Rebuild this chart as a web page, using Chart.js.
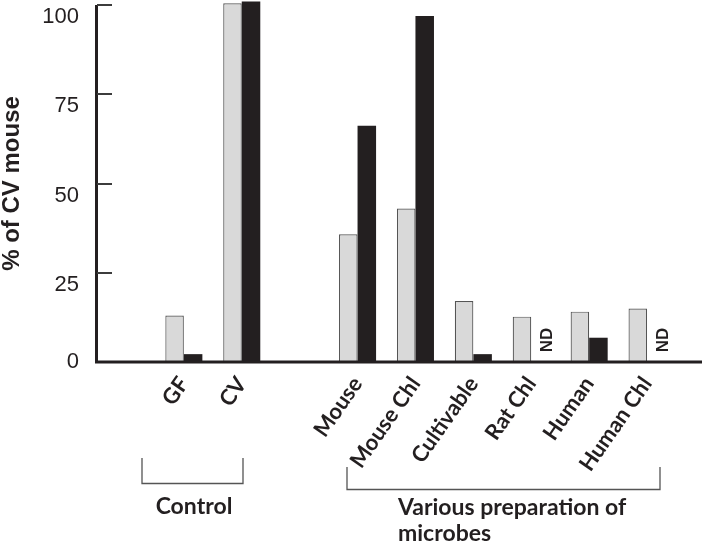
<!DOCTYPE html>
<html>
<head>
<meta charset="utf-8">
<title>% of CV mouse</title>
<script src="https://cdn.jsdelivr.net/npm/chart.js@4.4.1/dist/chart.umd.min.js"></script>
<style>
body{margin:0;background:#fff;}
</style>
</head>
<body>
<canvas id="canvasBar" width="706" height="546"></canvas>
<script>
// categories (the blank ones keep the gaps of the figure)
var labels = ['', 'GF', 'CV', '', 'Mouse', 'Mouse Chl', 'Cultivable', 'Rat Chl', 'Human', 'Human Chl'];
// light gray bars
var grayData = [null, 13, 100.5, null, 35.8, 43, 17.1, 12.7, 14.1, 15];
// black bars, null = ND
var blackData = [null, 2.2, 101, null, 66.2, 96.9, 2.2, null, 6.8, null];
// y ticks
var tickValues = [0, 25, 50, 75, 100];

var inkColor = 'rgb(35, 31, 32)';
var labelFont = 'Lato, "Open Sans", sans-serif';

// extra drawing: axes, inward ticks, ND, group brackets
var extras = {
	id: 'extras',
	afterDraw: function(chart){
		var c = chart.ctx;
		var area = chart.chartArea;
		var y = chart.scales.y;
		var top = y.getPixelForValue(100);
		var base = y.getPixelForValue(0);
		c.save();

		//y axis line
		c.fillStyle = inkColor;
		c.fillRect(area.left - 2, top, 3, base - top + 1);

		//x axis runs to the edge
		c.fillRect(area.left - 2, base - 1.5, chart.width - 2 - area.left, 3);

		//inward tick marks
		c.fillStyle = 'rgb(60, 60, 60)';
		tickValues.forEach(function(v){
			if (v === 0) return;
			var py = Math.round(y.getPixelForValue(v));
			c.fillRect(area.left, py - 1, 15, 2);
		});

		//ND
		var meta = chart.getDatasetMeta(0);
		c.fillStyle = inkColor;
		c.font = 'bold 17px "Liberation Sans", Arial, sans-serif';
		c.textAlign = 'center';
		c.textBaseline = 'middle';
		blackData.forEach(function(v, i){
			if (v !== null || grayData[i] === null) return;
			var bar = meta.data[i];
			c.save();
			c.translate(bar.x + bar.width / 2 + 16, base - 22);
			c.rotate(-Math.PI / 2);
			c.fillText('ND', 0, 0);
			c.restore();
		});

		//brackets
		c.strokeStyle = 'rgb(85, 85, 85)';
		c.lineWidth = 1.3;
		c.beginPath();
		c.moveTo(142, 458); c.lineTo(142, 483.5); c.lineTo(243, 483.5); c.lineTo(243, 458);
		c.stroke();
		c.beginPath();
		c.moveTo(347, 467); c.lineTo(347, 489.5); c.lineTo(660, 489.5); c.lineTo(660, 467);
		c.stroke();

		c.fillStyle = inkColor;
		c.font = 'bold 23px ' + labelFont;
		c.textBaseline = 'alphabetic';
		c.textAlign = 'center';
		c.fillText('Control', 194, 514);
		c.textAlign = 'left';
		c.fillText('Various preparation of', 398, 515);
		c.fillText('microbes', 398, 541);

		c.restore();
	}
};

var ctx = document.getElementById('canvasBar').getContext('2d');
var barChart = new Chart(ctx, {
	type: 'bar',
	data: {
		labels: labels,
		datasets: [
			{
			data: grayData,
			backgroundColor: '#d9d9d9',
			borderColor: '#555',
			borderWidth: 1.2,
			clip: false
			},
			{
			data: blackData,
			backgroundColor: inkColor,
			borderWidth: 0,
			clip: false
			}
		]
	},
	options: {
		responsive: false,
		animation: false,
		events: [],
		categoryPercentage: 0.64,
		barPercentage: 1,
		layout: {
			padding: {top: 5, right: 30, bottom: 0, left: 0}
		},
		plugins: {
			legend: {display: false},
			tooltip: {enabled: false}
		},
		scales: {
			x: {
				offset: true,
				grid: {display: false, drawTicks: false},
				border: {display: false},
				ticks: {
					autoSkip: false,
					minRotation: 55,
					maxRotation: 55,
					padding: 10,
					color: inkColor,
					font: {family: labelFont, size: 22, weight: 'bold'}
				},
				afterFit: function(scale){
					scale.height = 184;
					scale.paddingLeft = 0;
					scale.paddingRight = 0;
				}
			},
			y: {
				min: 0,
				max: 100,
				grid: {display: false, drawTicks: false},
				border: {display: false},
				afterBuildTicks: function(scale){
					scale.ticks = tickValues.map(function(v){ return {value: v}; });
				},
				ticks: {
					padding: 18,
					color: inkColor,
					font: {family: '"Liberation Sans", Arial, sans-serif', size: 22, lineHeight: 1.1},
					callback: function(v){
						// labels sit a little under their tick, except 0
						return v === 0 ? '0' : ['', String(v)];
					}
				},
				title: {
					display: true,
					text: '% of CV mouse',
					color: inkColor,
					padding: {top: 0, bottom: 0},
					font: {family: '"Liberation Sans", Arial, sans-serif', size: 24, weight: 'bold', lineHeight: 1}
				},
				afterFit: function(scale){
					scale.width = 97;
					scale.paddingTop = 0;
					scale.paddingBottom = 0;
				}
			}
		}
	},
	plugins: [extras]
});
</script>
</body>
</html>
